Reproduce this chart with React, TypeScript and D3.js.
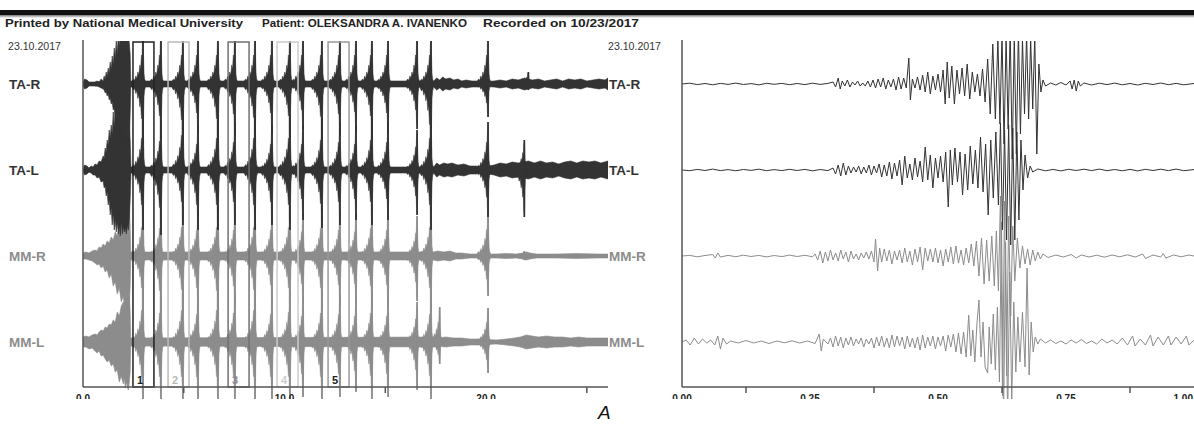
import React from 'react';
import * as d3 from 'd3';

// ---------- channels ----------
const channels = ['TA-R', 'TA-L', 'MM-R', 'MM-L'];
const channelColors = ['#333333', '#333333', '#8c8c8c', '#8c8c8c'];

// ---------- axes ----------
const leftMajorTicks = [0, 10, 20];
const leftMinorTicks = [5, 15, 25];
const rightMajorTicks = [0, 0.25, 0.5, 0.75, 1.0];
const rightMinorTicks = [0.125, 0.375, 0.625, 0.875];

// ---------- marked 1-s windows on the left record ----------
const windowLabels = ['1', '2', '3', '4', '5'];
const windowStarts = [2.48, 4.22, 7.2, 9.63, 12.16];
const windowLength = 1.04;
const windowColors = ['#222222', '#bbbbbb', '#707070', '#cccccc', '#999999'];
const windowLabelColors = ['#222222', '#bbbbbb', '#8a8a8a', '#cccccc', '#222222'];

// ---------- LEFT record (0..26 s): noise floor [t, half-amplitude] ----------
const noiseTAR = [[0, 1.5], [0.08, 5], [0.2, 4], [0.3, 2], [0.6, 2], [2.4, 3], [17.4, 3], [17.55, 6], [17.7, 4], [17.85, 7], [18.0, 5], [18.2, 6], [18.4, 4], [18.6, 5], [18.8, 3], [19.0, 4], [19.3, 3], [19.6, 3], [19.8, 2.5], [20.4, 3], [20.7, 4], [21.0, 3], [21.3, 5], [21.6, 4], [21.9, 6], [22.3, 4], [22.6, 5], [22.9, 3], [23.2, 4], [23.5, 5], [23.8, 3], [24.1, 5], [24.4, 4], [24.7, 5], [25.0, 3], [25.3, 4], [25.6, 5], [25.9, 4], [26.05, 6]];
const noiseTAL = [[0, 1.5], [0.08, 5], [0.2, 4], [0.3, 2], [0.5, 2], [2.4, 3], [17.4, 3], [17.55, 7], [17.7, 5], [17.9, 7], [18.1, 6], [18.3, 7], [18.6, 5], [18.9, 6], [19.2, 4], [19.5, 4], [19.8, 3], [20.4, 5], [20.7, 7], [21.0, 6], [21.3, 8], [21.6, 7], [22.1, 9], [22.4, 7], [22.7, 9], [23.0, 7], [23.3, 8], [23.6, 6], [23.9, 8], [24.2, 9], [24.5, 7], [24.8, 9], [25.1, 8], [25.4, 9], [25.7, 7], [26.05, 9]];
const noiseMMR = [[0, 2], [2.4, 4], [17.4, 4], [17.6, 5], [17.9, 4], [18.2, 5], [18.5, 3], [18.8, 3], [19.2, 2], [19.5, 2], [20.5, 2], [21.0, 2.5], [21.5, 2], [21.8, 3], [22.0, 4], [22.2, 3], [22.5, 2], [23.5, 2], [24.5, 2.5], [25.5, 2], [26.05, 2]];
const noiseMML = [[0, 4], [2.4, 4], [17.4, 5], [17.6, 4], [18.0, 5], [18.4, 4], [18.8, 4], [19.2, 3], [19.6, 3], [20.5, 2], [21.0, 3], [21.4, 4], [21.7, 5], [22.0, 7], [22.3, 6], [22.6, 5], [23.0, 6], [23.4, 5], [23.8, 5], [24.2, 4], [24.6, 5], [25.0, 4], [25.4, 4], [25.8, 4], [26.05, 4]];

// ---------- LEFT record: initial activation cluster [t, up, down] ----------
const clusterTAR = [[0.6, 2, 2], [0.7, 3, 2], [0.8, 2, 3], [0.9, 5, 4], [1.0, 3, 5], [1.05, 8, 6], [1.1, 5, 9], [1.15, 12, 8], [1.2, 8, 12], [1.25, 16, 10], [1.3, 11, 16], [1.35, 22, 14], [1.4, 15, 20], [1.45, 28, 18], [1.5, 20, 26], [1.55, 36, 24], [1.6, 26, 34], [1.65, 44, 28], [1.7, 30, 45], [1.75, 50, 35], [1.8, 38, 55], [1.85, 50, 40], [1.9, 42, 62], [1.95, 50, 45], [2.0, 45, 58], [2.05, 50, 48], [2.1, 44, 72], [2.15, 50, 50], [2.2, 46, 64], [2.25, 50, 52], [2.3, 40, 58], [2.34, 30, 30], [2.37, 3, 3]];
const clusterTAL = [[0.3, 2, 2], [0.4, 4, 3], [0.5, 3, 5], [0.6, 6, 5], [0.7, 5, 8], [0.8, 9, 7], [0.9, 8, 12], [1.0, 14, 11], [1.05, 12, 18], [1.1, 22, 16], [1.15, 18, 26], [1.2, 30, 22], [1.25, 25, 35], [1.3, 40, 30], [1.35, 32, 45], [1.4, 45, 38], [1.45, 36, 55], [1.5, 58, 44], [1.55, 44, 60], [1.6, 62, 50], [1.65, 50, 62], [1.7, 66, 52], [1.75, 52, 64], [1.8, 70, 55], [1.85, 55, 66], [1.9, 64, 52], [1.95, 52, 64], [2.0, 66, 56], [2.05, 55, 62], [2.1, 68, 58], [2.15, 54, 64], [2.2, 62, 55], [2.25, 50, 60], [2.3, 45, 48], [2.34, 30, 30], [2.38, 3, 3]];
const clusterMMR = [[0, 3, 3], [0.15, 4, 3], [0.3, 3, 4], [0.45, 5, 5], [0.6, 6, 7], [0.7, 5, 9], [0.8, 9, 8], [0.9, 8, 12], [1.0, 12, 10], [1.1, 10, 16], [1.2, 15, 14], [1.3, 13, 22], [1.4, 19, 18], [1.5, 16, 30], [1.6, 24, 26], [1.7, 20, 38], [1.8, 30, 32], [1.9, 26, 46], [2.0, 45, 40], [2.05, 35, 52], [2.1, 52, 45], [2.15, 42, 58], [2.2, 55, 48], [2.25, 45, 56], [2.3, 50, 50], [2.34, 30, 30], [2.37, 4, 4]];
const clusterMML = [[0, 5, 5], [0.15, 6, 5], [0.3, 5, 7], [0.45, 7, 6], [0.6, 8, 9], [0.7, 7, 11], [0.8, 10, 9], [0.9, 12, 14], [1.0, 11, 13], [1.1, 15, 17], [1.2, 14, 20], [1.3, 18, 18], [1.4, 17, 24], [1.5, 22, 22], [1.6, 20, 30], [1.7, 30, 28], [1.8, 26, 40], [1.9, 36, 34], [2.0, 40, 42], [2.05, 34, 36], [2.1, 45, 46], [2.15, 38, 40], [2.2, 50, 45], [2.25, 42, 48], [2.3, 46, 40], [2.34, 30, 30], [2.37, 4, 4]];

// ---------- LEFT record: rhythmic bursts [t, up, down] ----------
const burstsTAR = [[2.98, 50, 60], [3.87, 50, 55], [4.96, 50, 62], [5.71, 50, 50], [6.70, 50, 60], [7.54, 50, 52], [8.54, 50, 58], [9.38, 50, 50], [10.27, 50, 55], [10.92, 50, 45], [11.86, 50, 56], [12.75, 50, 52], [13.55, 50, 48], [14.34, 50, 55], [15.14, 50, 50], [16.58, 50, 45], [17.27, 50, 70], [20.10, 50, 33], [22.1, 12, 6]];
const burstsTAL = [[2.98, 55, 60], [3.87, 50, 65], [4.96, 60, 55], [5.71, 45, 60], [6.70, 55, 60], [7.54, 48, 55], [8.54, 55, 60], [9.38, 45, 55], [10.27, 55, 60], [10.92, 45, 50], [11.86, 52, 58], [12.75, 48, 55], [13.55, 45, 50], [14.34, 52, 55], [15.14, 48, 50], [16.58, 40, 45], [17.27, 55, 60], [20.10, 48, 47], [21.9, 30, 47]];
const burstsMMR = [[2.98, 50, 55], [3.87, 48, 60], [4.96, 50, 58], [5.71, 45, 55], [6.70, 50, 60], [7.54, 45, 52], [8.54, 50, 58], [9.38, 45, 50], [10.27, 50, 55], [10.92, 42, 48], [11.86, 48, 55], [12.75, 45, 50], [13.55, 42, 48], [14.34, 48, 52], [15.14, 45, 50], [16.58, 40, 45], [17.27, 50, 55], [20.10, 46, 40], [21.9, 5, 4]];
const burstsMML = [[2.98, 55, 60], [3.87, 50, 60], [4.96, 55, 60], [5.71, 48, 60], [6.70, 55, 60], [7.54, 50, 60], [8.54, 55, 60], [9.38, 48, 60], [10.27, 52, 60], [10.92, 45, 55], [11.86, 50, 60], [12.75, 48, 55], [13.55, 45, 50], [14.34, 50, 58], [15.14, 45, 55], [16.58, 40, 48], [17.27, 48, 58], [17.7, 35, 22], [20.10, 34, 31]];

// ---------- RIGHT record (0..1 s): samples [t, value] ----------
const rightTAR = [[0, 0], [0.015, 0.8], [0.03, -0.6], [0.045, 0.5], [0.06, -0.8], [0.075, 0.6], [0.09, -0.4], [0.105, 0.9], [0.12, -0.5], [0.135, 0.4], [0.15, -0.9], [0.165, 0.7], [0.18, -0.3], [0.195, 0.6], [0.21, -0.7], [0.225, 0.5], [0.24, -0.6], [0.255, 0.8], [0.27, -0.4], [0.285, 0.6],
  [0.295, 2], [0.3, -3], [0.305, 6], [0.309, -5], [0.313, 3], [0.318, -2], [0.323, 4], [0.328, -3], [0.333, 2], [0.338, -1], [0.343, 3], [0.348, -2], [0.353, 1], [0.358, -2], [0.363, 3], [0.368, -3], [0.373, 4], [0.378, -4], [0.383, 5], [0.388, -3], [0.393, 6], [0.398, -5], [0.403, 4], [0.408, -3], [0.413, 5], [0.418, -6], [0.423, 7], [0.428, -5], [0.433, 6], [0.438, -4], [0.443, 26], [0.446, -16], [0.45, 5], [0.455, -4], [0.46, 7], [0.465, -6], [0.47, 9], [0.475, -8], [0.48, 12], [0.485, -10], [0.49, 8], [0.495, -6], [0.5, 10], [0.505, -8], [0.51, 14], [0.514, -20], [0.518, 22], [0.522, -14], [0.527, 18], [0.532, -20], [0.537, 14], [0.542, -10], [0.547, 16], [0.552, -12], [0.557, 20], [0.562, -15], [0.567, 12], [0.572, -8], [0.577, 10], [0.582, -12], [0.587, 15], [0.592, -18], [0.597, 25], [0.602, -30], [0.607, 40], [0.612, -35], [0.617, 45], [0.621, -40], [0.625, 50], [0.629, -60], [0.633, 48], [0.637, -45], [0.641, 55], [0.645, -75], [0.649, 50], [0.653, -70], [0.657, 55], [0.661, -50], [0.665, 45], [0.669, -30], [0.673, 50], [0.677, -35], [0.681, 45], [0.685, -25], [0.689, 48], [0.693, -70], [0.697, 20], [0.701, -8], [0.705, 4],
  [0.71, -2], [0.72, 1], [0.73, -1], [0.74, 1.5], [0.75, -1], [0.758, 3], [0.762, -5], [0.766, 4], [0.77, -7], [0.774, 3], [0.778, -2], [0.785, 1], [0.8, -1], [0.815, 0.8], [0.83, -0.6], [0.845, 0.9], [0.86, -0.8], [0.875, 0.5], [0.89, -1], [0.905, 0.7], [0.92, -0.5], [0.935, 1], [0.95, -0.7], [0.965, 0.6], [0.98, -0.8], [1.0, 0.5]];

const rightTAL = [[0, 0], [0.015, -0.7], [0.03, 0.6], [0.045, -0.5], [0.06, 0.9], [0.075, -0.6], [0.09, 0.4], [0.105, -0.8], [0.12, 0.5], [0.135, -0.4], [0.15, 0.8], [0.165, -0.7], [0.18, 0.4], [0.195, -0.6], [0.21, 0.7], [0.225, -0.5], [0.24, 0.6], [0.255, -0.8], [0.27, 0.5], [0.285, -0.6],
  [0.295, 2], [0.3, -4], [0.305, 5], [0.31, -6], [0.315, 7], [0.32, -5], [0.325, 4], [0.33, -3], [0.335, 3], [0.34, -2], [0.345, 4], [0.35, -4], [0.355, 3], [0.36, -3], [0.365, 5], [0.37, -5], [0.375, 4], [0.38, -3], [0.385, 6], [0.39, -7], [0.395, 5], [0.4, -6], [0.405, 8], [0.41, -9], [0.415, 7], [0.42, -6], [0.425, 10], [0.43, -15], [0.435, 14], [0.44, -8], [0.445, 6], [0.45, -10], [0.455, 12], [0.46, -7], [0.465, 9], [0.47, -12], [0.475, 23], [0.48, -10], [0.485, 15], [0.49, -18], [0.495, 12], [0.5, -8], [0.505, 14], [0.51, -12], [0.515, 18], [0.52, -37], [0.524, 20], [0.528, -15], [0.533, 22], [0.538, -12], [0.543, 18], [0.548, -25], [0.553, 16], [0.558, -20], [0.563, 24], [0.568, -14], [0.573, 20], [0.578, -18], [0.583, 33], [0.588, -22], [0.593, 26], [0.598, -45], [0.603, 30], [0.608, -28], [0.613, 38], [0.618, -35], [0.622, 47], [0.626, -60], [0.63, 40], [0.634, -70], [0.638, 45], [0.642, -75], [0.646, 42], [0.65, -70], [0.654, 38], [0.658, -50], [0.662, 30], [0.666, -20], [0.67, 15], [0.675, -8], [0.68, 4], [0.685, -2],
  [0.695, 1], [0.71, -0.8], [0.725, 0.6], [0.74, -0.9], [0.755, 0.7], [0.77, -0.5], [0.785, 0.8], [0.8, -0.6], [0.815, 0.9], [0.83, -0.7], [0.845, 0.5], [0.86, -0.8], [0.875, 0.6], [0.89, -0.9], [0.905, 0.7], [0.92, -0.5], [0.935, 0.8], [0.95, -0.6], [0.965, 0.9], [0.98, -0.7], [1.0, 0.4]];

const rightMMR = [[0, 0], [0.015, 0.6], [0.03, -0.8], [0.045, 0.5], [0.06, 1.5], [0.065, -2], [0.07, 3], [0.075, -1], [0.09, 0.6], [0.105, -0.7], [0.12, 0.8], [0.135, -0.5], [0.15, 0.6], [0.165, -0.9], [0.18, 0.5], [0.195, -0.6], [0.21, 0.9], [0.225, -0.5], [0.24, 0.7], [0.255, -0.8],
  [0.26, 2], [0.265, -4], [0.27, 5], [0.275, -7], [0.28, 4], [0.285, -5], [0.29, 6], [0.295, -4], [0.3, 3], [0.305, -5], [0.31, 6], [0.315, -3], [0.32, 4], [0.325, -6], [0.33, 5], [0.335, -3], [0.34, 2], [0.345, -4], [0.35, 3], [0.355, -2], [0.36, 4], [0.365, -3], [0.37, 5], [0.375, -6], [0.378, 17], [0.382, -15], [0.386, 8], [0.39, -6], [0.395, 7], [0.4, -5], [0.405, 6], [0.41, -8], [0.415, 5], [0.42, -4], [0.425, 6], [0.43, -7], [0.435, 8], [0.44, -6], [0.445, 5], [0.45, -9], [0.455, 7], [0.46, -6], [0.465, 9], [0.47, -14], [0.475, 8], [0.48, -5], [0.485, 7], [0.49, -6], [0.495, 8], [0.5, -7], [0.505, 6], [0.51, -10], [0.515, 7], [0.52, -6], [0.525, 9], [0.53, -8], [0.535, 10], [0.54, -7], [0.545, 6], [0.55, -9], [0.555, 8], [0.56, -7], [0.565, 12], [0.57, -10], [0.575, 15], [0.58, -20], [0.585, 18], [0.59, -28], [0.595, 16], [0.6, -25], [0.605, 20], [0.61, -30], [0.614, 25], [0.618, -35], [0.622, 60], [0.626, -140], [0.63, 55], [0.634, -120], [0.638, 40], [0.642, -60], [0.646, 30], [0.65, -25], [0.655, 18], [0.66, -12], [0.665, 10], [0.67, -8], [0.675, 7], [0.68, -9], [0.685, 6], [0.69, -5], [0.695, 4], [0.7, -3], [0.705, 2],
  [0.715, -1.5], [0.73, 1], [0.745, -1], [0.76, 1.5], [0.77, -2], [0.78, 1], [0.795, -1], [0.81, 0.8], [0.825, -1.2], [0.84, 1], [0.855, -0.8], [0.87, 1.2], [0.885, -1], [0.9, 2], [0.905, -2.5], [0.92, 1], [0.935, -1], [0.94, 2.5], [0.945, -2], [0.96, 1], [0.975, -0.8], [0.99, 1], [1.0, 0]];

const rightMML = [[0, 0], [0.008, 2], [0.016, -3], [0.024, 4], [0.032, -2], [0.04, 3], [0.048, -1], [0.056, 2], [0.064, -3], [0.07, 6], [0.075, -7], [0.08, 4], [0.087, -2], [0.095, 1], [0.11, -1], [0.125, 1.5], [0.14, -1], [0.155, 1], [0.17, -1.5], [0.185, 1], [0.2, -0.8], [0.215, 1.2], [0.23, -1], [0.245, 1], [0.26, -1.5], [0.268, 8], [0.272, -9], [0.276, 3],
  [0.285, -2], [0.29, 4], [0.295, -5], [0.3, 6], [0.305, -4], [0.31, 5], [0.315, -6], [0.32, 4], [0.325, -3], [0.33, 5], [0.335, -4], [0.34, 3], [0.345, -2], [0.35, 4], [0.355, -5], [0.36, 3], [0.365, -2], [0.37, 4], [0.375, -6], [0.38, 5], [0.385, -4], [0.39, 6], [0.395, -5], [0.4, 4], [0.405, -6], [0.41, 7], [0.415, -5], [0.42, 6], [0.425, -4], [0.43, 5], [0.435, -7], [0.44, 6], [0.445, -5], [0.45, 4], [0.455, -6], [0.46, 5], [0.465, -8], [0.47, 7], [0.475, -6], [0.48, 5], [0.485, -4], [0.49, 6], [0.495, -7], [0.5, 5], [0.505, -4], [0.51, 6], [0.515, -9], [0.52, 7], [0.525, -5], [0.53, 8], [0.535, -10], [0.54, 9], [0.545, -12], [0.55, 10], [0.555, -15], [0.56, 27], [0.564, -14], [0.568, 12], [0.572, -20], [0.576, 18], [0.58, 42], [0.584, -15], [0.588, 20], [0.592, -25], [0.597, -31], [0.6, 15], [0.604, -22], [0.608, 28], [0.612, -28], [0.616, 35], [0.62, -40], [0.624, 120], [0.628, -80], [0.632, 100], [0.636, -80], [0.64, 70], [0.644, -60], [0.648, 40], [0.652, -30], [0.656, 25], [0.66, -20], [0.665, 30], [0.67, -25], [0.674, 74], [0.678, -33], [0.682, 20], [0.686, -10], [0.69, 5], [0.695, -2],
  [0.7, 3], [0.71, -1], [0.72, 2], [0.73, -1.5], [0.74, 1], [0.75, -2], [0.76, 2], [0.77, -1], [0.78, 2.5], [0.79, -1.5], [0.8, 1], [0.81, -2], [0.82, 3], [0.83, -1], [0.84, 2], [0.85, -2], [0.86, 4], [0.87, -3], [0.88, 6], [0.885, -4], [0.895, 3], [0.905, -3], [0.915, 7], [0.92, -4], [0.93, 5], [0.94, -3], [0.95, 6], [0.955, -3], [0.965, 5], [0.975, -2], [0.985, 6], [0.99, -3], [1.0, 2]];

const leftNoise = [noiseTAR, noiseTAL, noiseMMR, noiseMML];
const leftClusters = [clusterTAR, clusterTAL, clusterMMR, clusterMML];
const leftBursts = [burstsTAR, burstsTAL, burstsMMR, burstsMML];
const rightSeries = [rightTAR, rightTAL, rightMMR, rightMML];

// drawing shape of a single burst (relative time s, fraction of peak)
const BURST_SHAPE = [[-0.55, 0.05], [-0.47, 0.1], [-0.42, 0.07], [-0.36, 0.16], [-0.31, 0.11], [-0.26, 0.24], [-0.21, 0.18], [-0.16, 0.38], [-0.12, 0.3], [-0.08, 0.58], [-0.05, 0.48], [-0.03, 0.85], [-0.01, 1.0], [0.01, 0.96], [0.03, 0.45], [0.05, 0.2], [0.08, 0.1], [0.12, 0.05]];

const FONT = '"Liberation Sans", Arial, Helvetica, sans-serif';

export default function App() {
  const W = 1194, H = 425;
  const xL = d3.scaleLinear().domain([0, 26.05]).range([83, 608]);
  const xR = d3.scaleLinear().domain([0, 1]).range([682, 1194]);
  const yCh = d3.scalePoint<string>().domain(channels).range([84, 342]);
  const amp = d3.scaleLinear().domain([0, 100]).range([0, 100]);
  const axisY = 387;

  const drawOrder = [3, 2, 1, 0];

  const envArea = (base: number) =>
    d3.area<number[]>()
      .x(d => xL(d[0]))
      .y0(d => base + amp(d[2]))
      .y1(d => base - amp(d[1]));

  return (
    <svg width={W} height={H} style={{ position: 'absolute', left: 0, top: 0, background: '#fff', display: 'block' }}>
      <defs>
        <clipPath id="clipL"><rect x={83} y={41} width={525} height={358} /></clipPath>
        <clipPath id="clipR"><rect x={682} y={41} width={512} height={358} /></clipPath>
        <linearGradient id="hdr" x1="0" y1="0" x2="0" y2="1">
          <stop offset="0" stopColor="#777" />
          <stop offset="1" stopColor="#fff" />
        </linearGradient>
      </defs>
      <rect x={0} y={0} width={W} height={H} fill="#fff" />
      {/* header */}
      <rect x={0} y={10} width={W} height={5} fill="#111" />
      <rect x={0} y={15} width={W} height={3} fill="url(#hdr)" />
      <g fontFamily={FONT} fontWeight="bold" fontSize={11.5} fill="#222">
        <text x={5} y={27} textLength={238} lengthAdjust="spacingAndGlyphs">Printed by National Medical University</text>
        <text x={262} y={27} textLength={205} lengthAdjust="spacingAndGlyphs">Patient: OLEKSANDRA A. IVANENKO</text>
        <text x={483} y={27} textLength={156} lengthAdjust="spacingAndGlyphs">Recorded on 10/23/2017</text>
      </g>
      <g fontFamily={FONT} fontSize={10} fill="#333">
        <text x={8} y={50} textLength={53} lengthAdjust="spacingAndGlyphs">23.10.2017</text>
        <text x={608} y={50} textLength={53} lengthAdjust="spacingAndGlyphs">23.10.2017</text>
      </g>

      {/* LEFT traces */}
      <g clipPath="url(#clipL)">
        {drawOrder.map(i => {
          const base = yCh(channels[i]) as number;
          const color = channelColors[i];
          const noiseArea = d3.area<number[]>()
            .x(d => xL(d[0]))
            .y0(d => base + amp(d[1]))
            .y1(d => base - amp(d[1]));
          const area = envArea(base);
          return (
            <g key={'L' + i} fill={color} stroke={color}>
              <path d={noiseArea(leftNoise[i]) || ''} strokeWidth={0.6} />
              <path d={area(leftClusters[i]) || ''} strokeWidth={0.6} />
              {leftBursts[i].map((b, k) => {
                const pts = BURST_SHAPE.map(([dt, f]) => [b[0] + dt, b[1] * f, b[2] * f]);
                return (
                  <g key={k}>
                    <path d={area(pts) || ''} strokeWidth={0.5} />
                    <line x1={xL(b[0])} x2={xL(b[0])} y1={base - amp(b[1])} y2={base + amp(b[2])} strokeWidth={1.6} />
                  </g>
                );
              })}
            </g>
          );
        })}
      </g>

      {/* RIGHT traces */}
      <g clipPath="url(#clipR)">
        {drawOrder.map(i => {
          const base = yCh(channels[i]) as number;
          const line = d3.line<number[]>().x(d => xR(d[0])).y(d => base - amp(d[1]));
          return <path key={'R' + i} d={line(rightSeries[i]) || ''} fill="none" stroke={channelColors[i]} strokeWidth={1} strokeLinejoin="round" />;
        })}
      </g>

      {/* windows */}
      {windowStarts.map((s, k) => (
        <g key={'w' + k}>
          <rect x={xL(s)} y={42} width={xL(s + windowLength) - xL(s)} height={axisY - 42} fill="none" stroke={windowColors[k]} strokeWidth={1.5} />
          <text x={xL(s) + 4} y={384} fontFamily={FONT} fontWeight="bold" fontSize={11} fill={windowLabelColors[k]}>{windowLabels[k]}</text>
        </g>
      ))}

      {/* axes */}
      <g stroke="#555" strokeWidth={1.5}>
        <line x1={83} x2={83} y1={40} y2={axisY} />
        <line x1={83} x2={608} y1={axisY} y2={axisY} />
        {leftMinorTicks.map(t => <line key={t} x1={xL(t)} x2={xL(t)} y1={axisY} y2={axisY + 6} />)}
        <line x1={682} x2={682} y1={40} y2={axisY} />
        <line x1={682} x2={1194} y1={axisY} y2={axisY} />
        {rightMinorTicks.map(t => <line key={t} x1={xR(t)} x2={xR(t)} y1={axisY} y2={axisY + 6} />)}
      </g>
      <g fontFamily={FONT} fontWeight="bold" fontSize={10} fill="#222">
        {leftMajorTicks.map(t => <text key={t} x={xL(t)} y={402} textAnchor="middle">{d3.format('.1f')(t)}</text>)}
        {rightMajorTicks.map(t => <text key={t} x={t >= 1 ? xR(t) - 1 : xR(t)} y={402} textAnchor={t >= 1 ? 'end' : 'middle'}>{d3.format('.2f')(t)}</text>)}
      </g>
      <rect x={0} y={399} width={W} height={26} fill="#fff" />

      {/* channel labels */}
      <g fontFamily={FONT} fontWeight="bold" fontSize={13.5}>
        {channels.map((c, i) => {
          const base = yCh(c) as number;
          return (
            <g key={c} fill={channelColors[i]}>
              <text x={9} y={base + 5}>{c}</text>
              <text x={609} y={base + 5}>{c}</text>
            </g>
          );
        })}
      </g>

      <text x={598} y={419} fontFamily={FONT} fontStyle="italic" fontSize={19} fill="#111">A</text>
    </svg>
  );
}
